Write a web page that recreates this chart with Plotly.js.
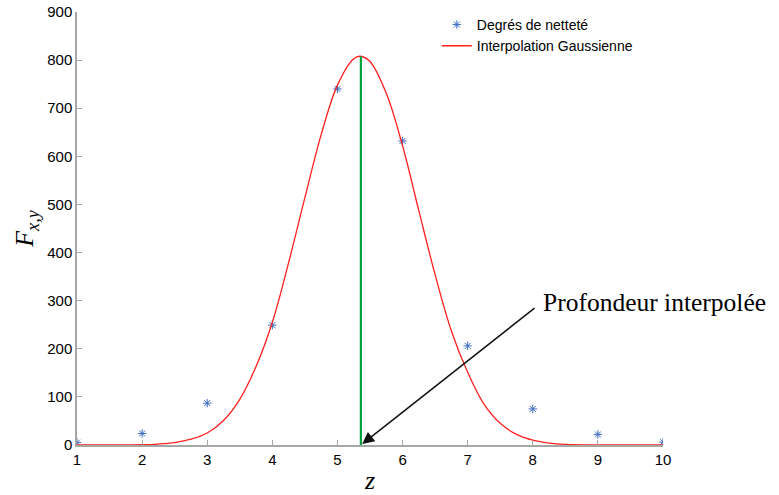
<!DOCTYPE html>
<html>
<head>
<meta charset="utf-8">
<script src="https://cdn.plot.ly/plotly-3.0.1.min.js"></script>
<style>body{margin:0;} #chart{width:779px;height:495px;}</style>
</head>
<body>
<div id="chart"></div>
<script>
// Degrés de netteté measured at each z
var zPoints = [1, 2, 3, 4, 5, 6, 7, 8, 9, 10];
var sharpness = [5, 24, 87, 249, 740, 632, 206, 75, 22, 6];

// Gaussian interpolation, values
var zCurve = [1, 1.5, 2, 2.25, 2.5, 2.75, 3, 3.25, 3.5, 3.75, 4, 4.25, 4.5, 4.75, 5, 5.25, 5.35,
              5.5, 5.75, 6, 6.25, 6.5, 6.75, 7, 7.25, 7.5, 7.75, 8, 8.25, 8.5, 9, 9.5, 10];
var fCurve = [0, 0, 0.6, 2, 5, 12, 25, 51, 95, 163, 255, 379, 514, 645, 748, 803, 808,
              797, 731, 622, 487, 354, 237, 151, 85, 45, 22, 10, 4, 1.5, 0.2, 0, 0];

// interpolated depth
var zPeak = 5.36;
var fPeak = 808;

var markers = {
  x: zPoints,
  y: sharpness,
  type: "scatter",
  mode: "markers",
  name: "Degrés de netteté",
  marker: {symbol: "asterisk-open", size: 7, color: "#3d6cc0", line: {color: "#3d6cc0", width: 1}}
};

var gauss = {
  x: zCurve,
  y: fCurve,
  type: "scatter",
  mode: "lines",
  name: "Interpolation Gaussienne",
  line: {color: "#ff2020", width: 1.3, shape: "spline", smoothing: 1}
};

var peakLine = {
  x: [zPeak, zPeak],
  y: [0, fPeak],
  type: "scatter",
  mode: "lines",
  showlegend: false,
  line: {color: "#00a03c", width: 2.2}
};

var data = [markers, gauss, peakLine];

var layout = {
  width: 779,
  height: 495,
  margin: {l: 77, r: 116, t: 12, b: 50, autoexpand: false},
  paper_bgcolor: "white",
  plot_bgcolor: "white",
  font: {family: "Liberation Sans, Arial, sans-serif", size: 15, color: "#000"},
  showlegend: true,
  legend: {
    x: 0.614, y: 1.007, xanchor: "left", yanchor: "top",
    bgcolor: "rgba(0,0,0,0)",
    font: {size: 14},
    tracegroupgap: 0
  },
  xaxis: {
    range: [1, 10],
    tickvals: [1, 2, 3, 4, 5, 6, 7, 8, 9, 10],
    showgrid: false, zeroline: false,
    showline: true, linecolor: "#a6a6a6", linewidth: 1.5,
    ticks: "inside", ticklen: 5, tickcolor: "#a6a6a6",
    title: {text: "<i>z</i>", font: {family: "Liberation Serif, serif", size: 26}, standoff: 8}
  },
  yaxis: {
    range: [0, 900],
    tickvals: [0, 100, 200, 300, 400, 500, 600, 700, 800, 900],
    showgrid: false, zeroline: false,
    showline: true, linecolor: "#a6a6a6", linewidth: 1.5,
    ticks: "inside", ticklen: 5, tickcolor: "#a6a6a6",
    title: {text: "<i>F</i><sub><i>x,y</i></sub>", font: {family: "Liberation Serif, serif", size: 26}, standoff: 6}
  },
  annotations: [
    {
      x: 5.38, y: 2, xref: "x", yref: "y",
      ax: 8.05, ay: 287, axref: "x", ayref: "y",
      text: "", showarrow: true,
      arrowhead: 2, arrowsize: 1.6, arrowwidth: 1.5, arrowcolor: "#111"
    },
    {
      x: 8.12, y: 297, xref: "x", yref: "y",
      xanchor: "left", yanchor: "middle",
      text: "Profondeur interpolée", showarrow: false,
      font: {family: "Liberation Serif, serif", size: 25.5, color: "#000"}
    }
  ]
};

Plotly.newPlot("chart", data, layout, {displayModeBar: false});
</script>
</body>
</html>
